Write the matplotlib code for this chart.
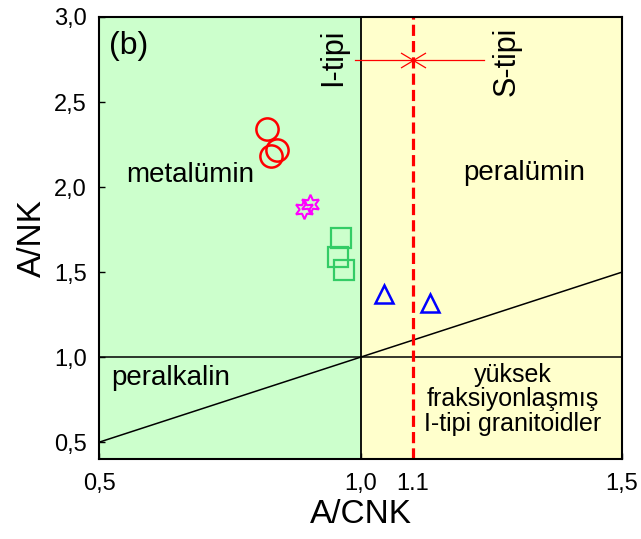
import matplotlib
matplotlib.use("Agg")
import matplotlib.pyplot as plt
from matplotlib.path import Path

plt.rcParams['font.family'] = ['Liberation Sans', 'DejaVu Sans']

# data
circle_x = [0.822, 0.840, 0.828]
circle_y = [2.34, 2.22, 2.18]
star_x = [0.891, 0.903]
star_y = [1.87, 1.90]
square_x = [0.963, 0.957, 0.969]
square_y = [1.70, 1.59, 1.51]
tri_x = [1.044, 1.132]
tri_y = [1.37, 1.32]
ref_x = [1.1]
ref_y = [2.75]
ref_err = [0.99, 1.237]

xticks = [0.5, 1.0, 1.1, 1.5]
xticklabels = ['0,5', '1,0', '1.1', '1,5']
yticks = [0.5, 1.0, 1.5, 2.0, 2.5, 3.0]
yticklabels = ['0,5', '1,0', '1,5', '2,0', '2,5', '3,0']

fig = plt.figure(figsize=(6.41, 5.39), dpi=100)
ax = fig.add_axes([0.1545, 0.148, 0.8159, 0.8205])
ax.set_xlim(0.5, 1.5)
ax.set_ylim(0.4, 3.0)

ax.axvspan(0.5, 1.0, color='#ccffcc', zorder=0, lw=0)
ax.axvspan(1.0, 1.5, color='#ffffcc', zorder=0, lw=0)

ax.plot([1.0, 1.0], [0.4, 3.0], color='black', lw=1.3, zorder=1)
ax.plot([0.5, 1.5], [1.0, 1.0], color='black', lw=1.1, zorder=1)
ax.plot([0.5, 1.5], [0.5, 1.5], color='black', lw=1.1, zorder=1)
ax.plot([1.1, 1.1], [0.4, 3.0], color='red', lw=2.3, dashes=(3.5, 1.6), zorder=2)

# reference point with bar
ax.plot(ref_err, [ref_y[0], ref_y[0]], color='red', lw=0.9, zorder=3)
xmark = Path([(-1, -0.6), (1, 0.6), (-1, 0.6), (1, -0.6)],
             [Path.MOVETO, Path.LINETO, Path.MOVETO, Path.LINETO])
ax.plot(ref_x, ref_y, marker=xmark, ms=18, color='red', mew=0.9, ls='none', zorder=3)

ax.plot(circle_x, circle_y, 'o', ms=16, mfc='none', mec='#ff0000', mew=1.8, zorder=4)
ax.plot(star_x, star_y, marker=(6, 1, 0), ms=14, mfc='none', mec='#ff00ff', mew=1.5, ls='none', zorder=4)
ax.plot(square_x, square_y, 's', ms=15, mfc='none', mec='#33cc66', mew=1.6, zorder=4)
ax.plot(tri_x, tri_y, '^', ms=13, mfc='none', mec='#0000ff', mew=1.8, zorder=4)

ax.text(0.52, 2.83, '(b)', fontsize=23, ha='left', va='center')
ax.text(0.675, 2.07, 'metalümin', fontsize=20, ha='center', va='center')
ax.text(1.313, 2.08, 'peralümin', fontsize=20, ha='center', va='center')
ax.text(0.637, 0.88, 'peralkalin', fontsize=20, ha='center', va='center')
ax.text(1.291, 0.752, 'yüksek\nfraksiyonlaşmış\nI-tipi granitoidler', fontsize=18,
        ha='center', va='center', linespacing=1.02, multialignment='center')
ax.text(0.947, 2.76, 'I-tipi', fontsize=22, ha='center', va='center', rotation=90)
ax.text(1.28, 2.74, 'S-tipi', fontsize=22, ha='center', va='center', rotation=90)

ax.set_xticks(xticks)
ax.set_xticklabels(xticklabels)
ax.set_yticks(yticks)
ax.set_yticklabels(yticklabels)
ax.tick_params(axis='both', direction='in', length=4, width=1, labelsize=17)
ax.tick_params(axis='x', pad=10)
ax.tick_params(axis='y', pad=9)
for s in ax.spines.values():
    s.set_linewidth(1.5)
    s.set_zorder(5)

ax.set_xlabel('A/CNK', fontsize=24, labelpad=3)
ax.set_ylabel('A/NK', fontsize=24, labelpad=4)

fig.savefig('out.png', dpi=100)
